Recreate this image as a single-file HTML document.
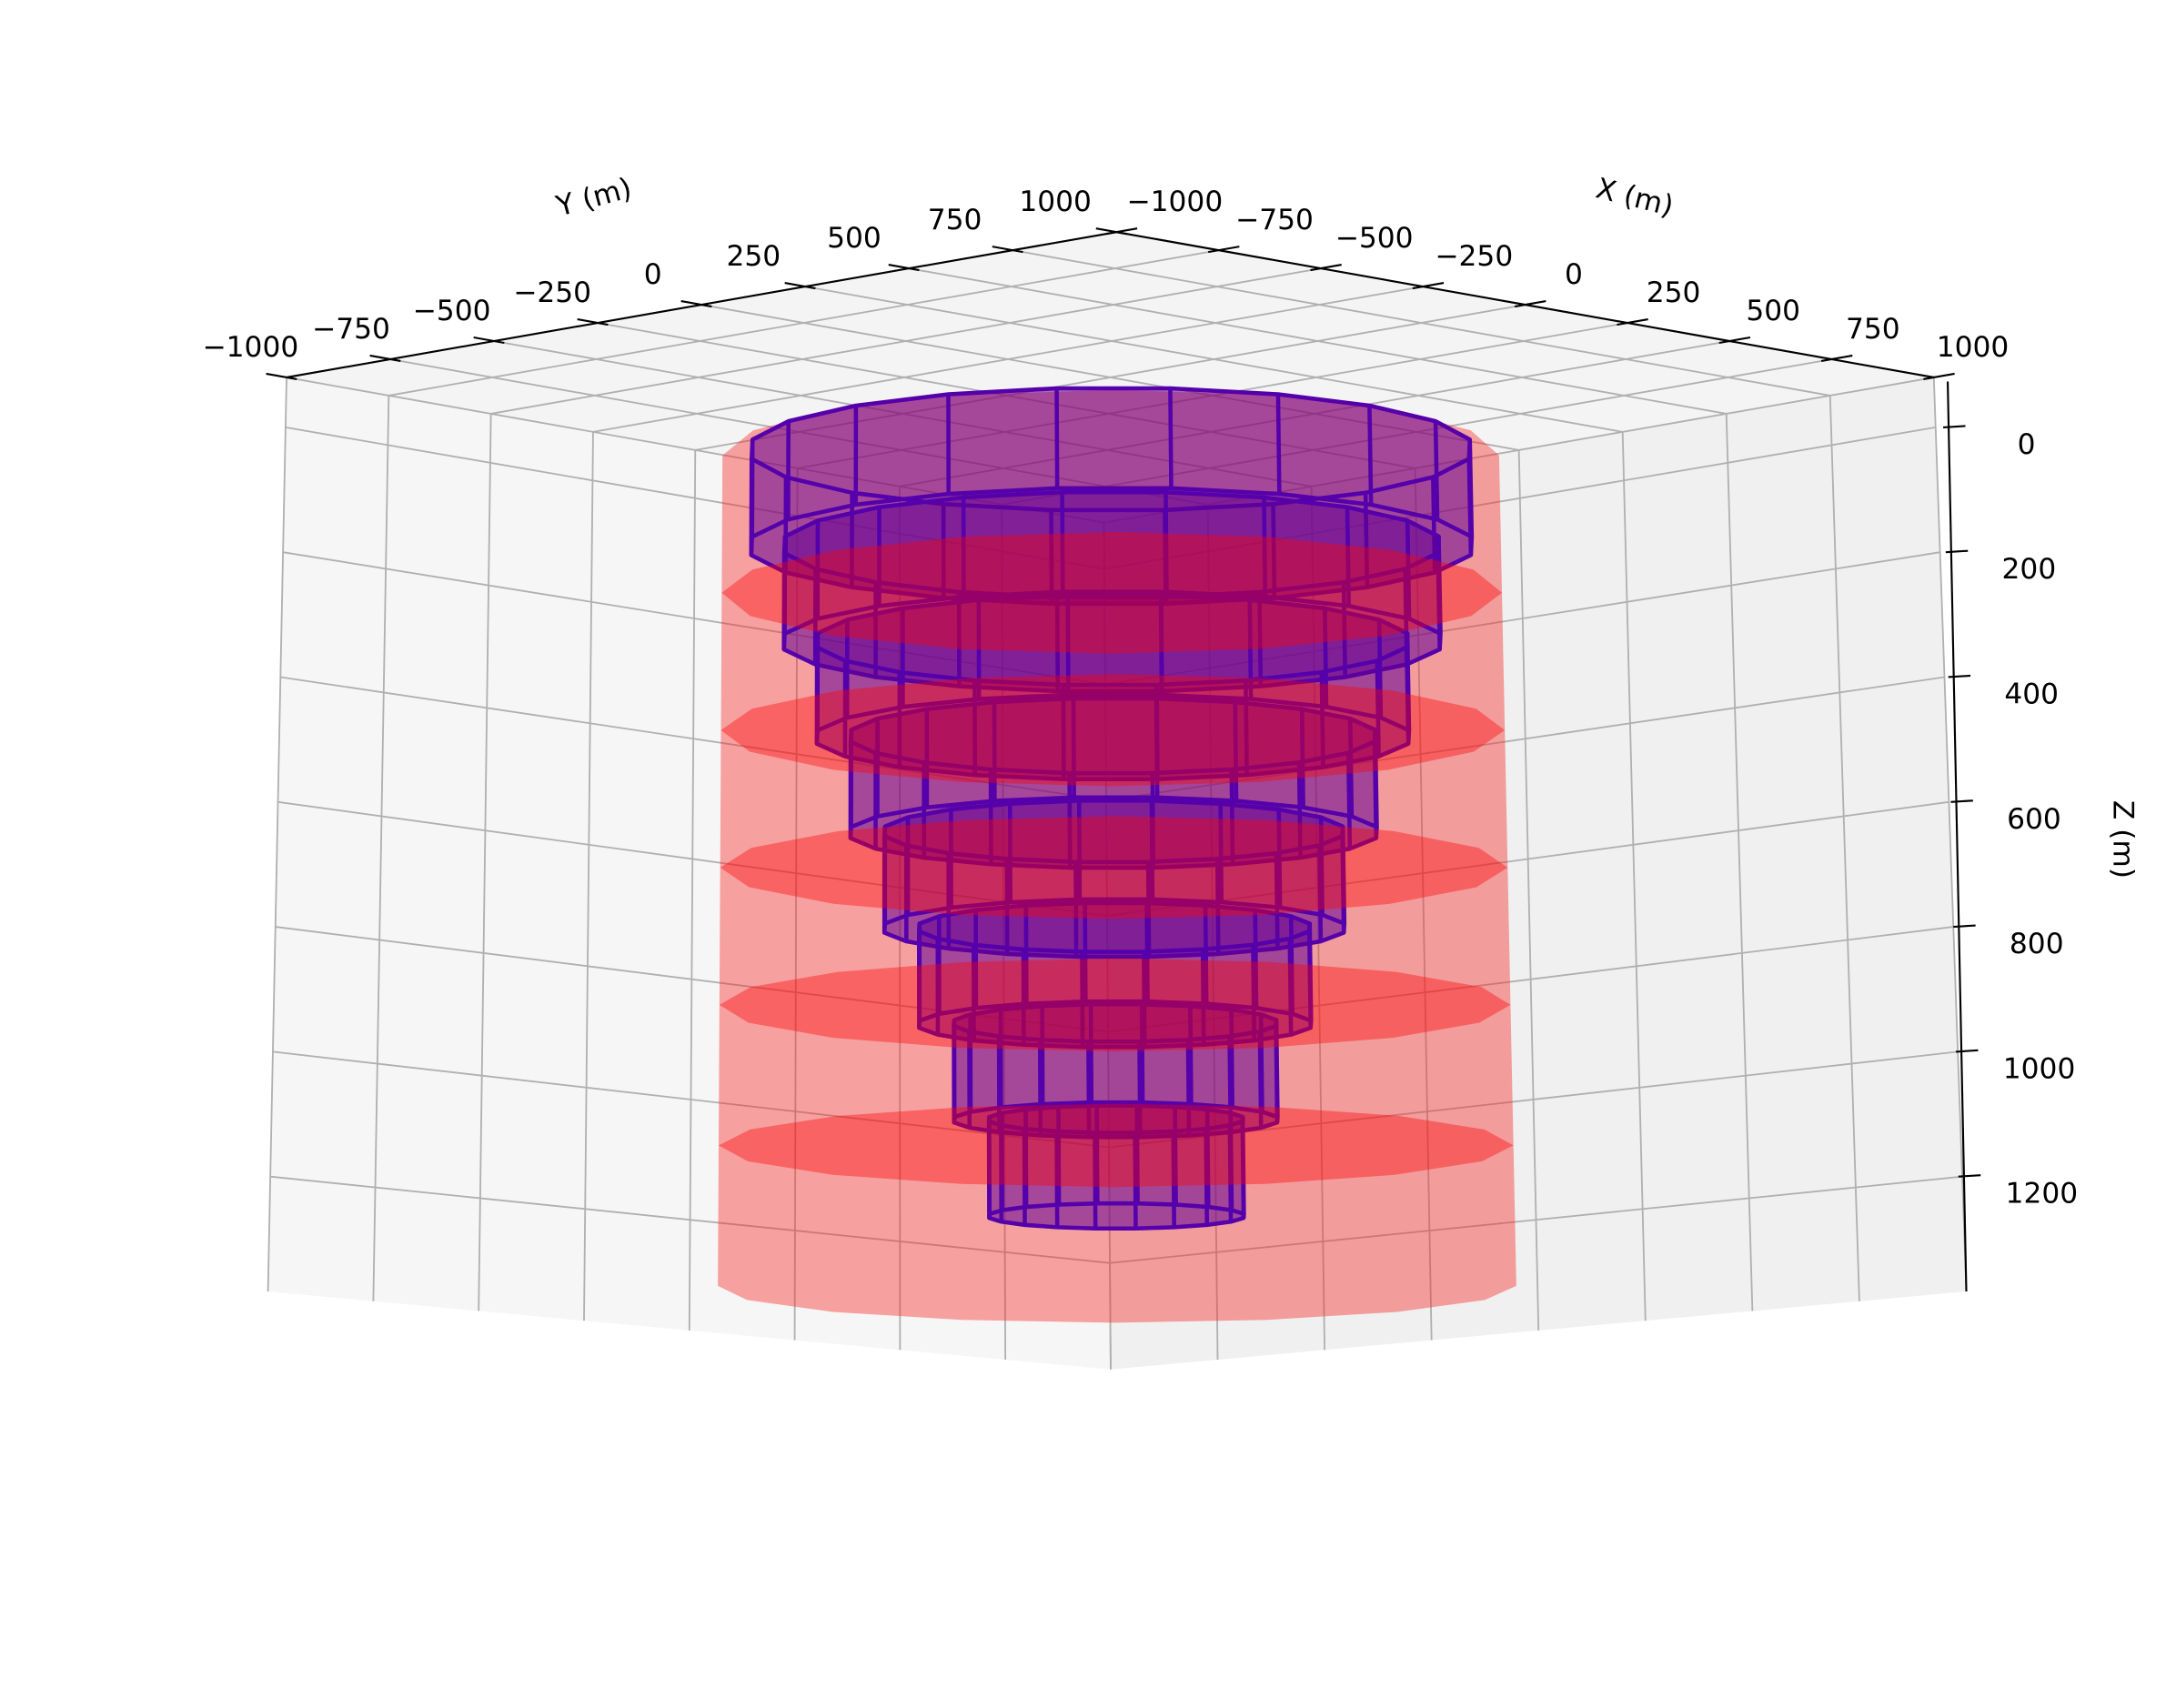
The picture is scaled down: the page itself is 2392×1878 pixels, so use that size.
<!DOCTYPE html>
<html><head><meta charset="utf-8"><style>
html,body{margin:0;padding:0;background:#fff;}
svg{display:block;}
text{font-family:"DejaVu Sans","Liberation Sans",sans-serif;fill:#000;}
</style></head><body>
<svg id="chart" xmlns="http://www.w3.org/2000/svg" width="2392" height="1878" viewBox="0 0 1568 1231" preserveAspectRatio="none">
<rect x="0" y="0" width="1568" height="1231" fill="#ffffff"/>
<g id="panes"></g>
<g id="grid"></g>
<g id="axes"></g>
<g id="red"></g>
<g id="purple"></g>
<g id="caps"></g>
<text x="428" y="149" font-size="20.5" text-anchor="middle" transform="rotate(-15 428 142)">Y (m)</text>
<text x="1178" y="149" font-size="20.5" text-anchor="middle" transform="rotate(14 1178 142)">X (m)</text>
<text x="1530" y="612" font-size="20.5" text-anchor="middle" transform="rotate(90 1530 605)">Z (m)</text>
</svg>
<script>
const xTicks = [-1000,-750,-500,-250,0,250,500,750,1000];
const yTicks = [-1000,-750,-500,-250,0,250,500,750,1000];
const zTicks = [0,200,400,600,800,1000,1200];
const cylinderTops = [35,188,341,494,647,801,954,1108];
const cylinderHeights = [155,155,155,155,155,155,155,155];
const cylinderRadii = [622,565,508,450,392,333,274,215];
const redBoundaries = [45,265,485,705,925,1150,1375];
const redRadius = [665];

const NS="http://www.w3.org/2000/svg";
const zTop=-80, zBot=1384;
function P(x,y,z){
  const t=(z-zTop)/(zBot-zTop);
  const sH=1+0.031*t, sV=0.97-0.45*t;
  const cx=800+5*t, cy=308+0.45*z;
  return [cx+sH*(0.2945*x+0.299*y), cy+sV*(0.054*x-0.054*y)];
}
function mk(tag,parent,attrs){
  const el=document.createElementNS(NS,tag);
  for(const k in attrs) el.setAttribute(k,attrs[k]);
  document.getElementById(parent).appendChild(el);
  return el;
}
function pts(a){return a.map(p=>p[0].toFixed(2)+","+p[1].toFixed(2)).join(" ");}
function hull(points){
  const p=points.slice().sort((a,b)=>a[0]-b[0]||a[1]-b[1]);
  const cr=(o,a,b)=>(a[0]-o[0])*(b[1]-o[1])-(a[1]-o[1])*(b[0]-o[0]);
  const lo=[],up=[];
  for(const q of p){while(lo.length>=2&&cr(lo[lo.length-2],lo[lo.length-1],q)<=0)lo.pop();lo.push(q);}
  for(let i=p.length-1;i>=0;i--){const q=p[i];while(up.length>=2&&cr(up[up.length-2],up[up.length-1],q)<=0)up.pop();up.push(q);}
  up.pop();lo.pop();return lo.concat(up);
}
function ring(r,z,n,off){const a=[];for(let k=0;k<n;k++){const th=2*Math.PI*k/n+(off||0);a.push(P(r*Math.cos(th),r*Math.sin(th),z));}return a;}

let el;
el=mk("polygon","panes",{points:pts([P(-1000,-1000,zTop),P(-1000,1000,zTop),P(1000,1000,zTop),P(1000,-1000,zTop)]),fill:"#f4f4f4"});


el=mk("polygon","panes",{points:pts([P(-1000,-1000,zTop),P(1000,-1000,zTop),P(1000,-1000,zBot),P(-1000,-1000,zBot)]),fill:"#f6f6f6"});


el=mk("polygon","panes",{points:pts([P(1000,-1000,zTop),P(1000,1000,zTop),P(1000,1000,zBot),P(1000,-1000,zBot)]),fill:"#f0f0f0"});



function gl(a,b){const e=mk("line","grid",{x1:a[0],y1:a[1],x2:b[0],y2:b[1],stroke:"#b0b0b0","stroke-width":1.2});

}
for(const v of xTicks){gl(P(v,-1000,zTop),P(v,1000,zTop));gl(P(v,-1000,zTop),P(v,-1000,zBot));}
for(const v of yTicks){gl(P(-1000,v,zTop),P(1000,v,zTop));gl(P(1000,v,zTop),P(1000,v,zBot));}
for(const z of zTicks){gl(P(-1000,-1000,z),P(1000,-1000,z));gl(P(1000,-1000,z),P(1000,1000,z));}

function al(a,b,name){const e=mk("line","axes",{x1:a[0],y1:a[1],x2:b[0],y2:b[1],stroke:"#000","stroke-width":1.4});

}
function tx(x,y,s,name){const e=mk("text","axes",{x:x,y:y,"font-size":20.5,"text-anchor":"middle"});e.textContent=s;

}
const fmt=v=>(v<0?"\u2212"+(-v):""+v);
al(P(-1000,-1000,zTop),P(-1000,1000,zTop),"y-axis-line");
al(P(-1000,1000,zTop),P(1000,1000,zTop),"x-axis-line");
yTicks.forEach(v=>{const p=P(-1000,v,zTop);al(P(-1050,v,zTop),P(-975,v,zTop),"y-tick");
  const f=(v+1000)/2000;tx(p[0]-26-18*f,p[1]-15,fmt(v),"y-tick-label");});
xTicks.forEach(v=>{const p=P(v,1000,zTop);al(P(v,1050,zTop),P(v,975,zTop),"x-tick");
  const f=(v+1000)/2000;tx(p[0]+42-14*f,p[1]-15,fmt(v),"x-tick-label");});
{const a=P(1000,1000,zTop),b=P(1000,1000,zBot);al([a[0]+10,a[1]+3],b,"z-axis-line");}
zTicks.forEach(z=>{const p=P(1000,1000,z);const t=(z-zTop)/(zBot-zTop);const xz=p[0]+10*(1-t);
  al([xz-4,p[1]],[xz+12,p[1]-1],"z-tick");tx(xz+56,p[1]+19,fmt(z),"z-tick-label");});

{const R=redRadius[0];const a=ring(R,redBoundaries[0],16,0).concat(ring(R,redBoundaries[redBoundaries.length-1],16,0));
el=mk("polygon","red",{points:pts(hull(a)),fill:"rgba(245,40,40,0.42)"});

}

cylinderTops.forEach((zt,i)=>{
  const zb=zt+cylinderHeights[i], r=cylinderRadii[i];
  const top=ring(r,zt,20,0), bot=ring(r,zb,20,0);
  let e=mk("polygon","purple",{points:pts(hull(top.concat(bot))),fill:"rgba(100,0,150,0.55)"});
  
  
  e=mk("polygon","purple",{points:pts(top),fill:"none",stroke:"#5500aa","stroke-width":3,"stroke-linejoin":"round"});
  
  
  e=mk("polygon","purple",{points:pts(bot),fill:"none",stroke:"#5500aa","stroke-width":3,"stroke-linejoin":"round"});
  
  
  for(let k=0;k<20;k++){
    e=mk("line","purple",{x1:top[k][0],y1:top[k][1],x2:bot[k][0],y2:bot[k][1],stroke:"#5500aa","stroke-width":3});
    
    
  }
});

redBoundaries.slice(1,-1).forEach((z,i)=>{
  const e=mk("polygon","caps",{points:pts(ring(redRadius[0],z,16,0)),fill:"rgba(255,0,0,0.38)"});
  
  
});
</script>
</body></html>
